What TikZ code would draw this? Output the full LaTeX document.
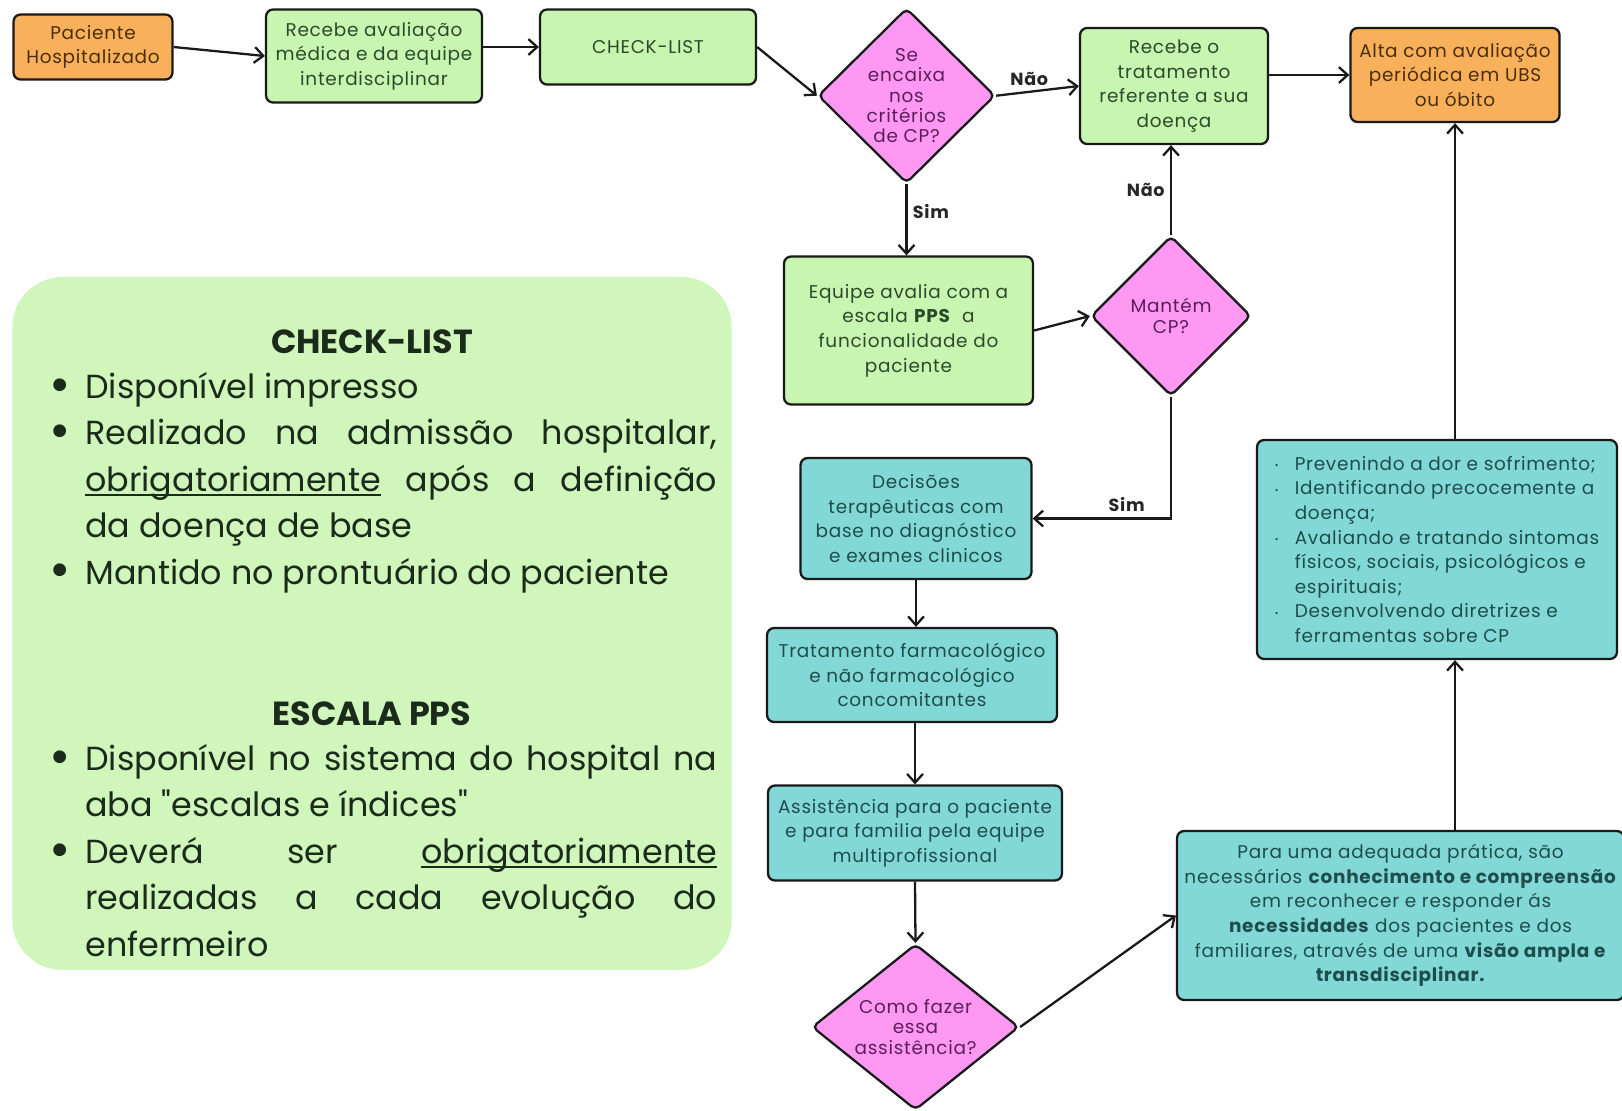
\documentclass[tikz,border=0pt]{standalone}
\usepackage{fontspec}
\setmainfont{Poppins}
\newfontfamily\caixafonte{Poppins}[LetterSpace=4]
\usepackage{graphicx}
\usepackage{tikz}
\usetikzlibrary{positioning, arrows.meta, shapes.geometric}

\definecolor{corLaranja}{HTML}{F9B05A}
\definecolor{corVerde}{HTML}{C8F5B0}
\definecolor{corPainel}{HTML}{D0F6BC}
\definecolor{corAzul}{HTML}{82D8D6}
\definecolor{corRosa}{HTML}{FF98F3}
\definecolor{txtLaranja}{HTML}{4A2E0C}
\definecolor{txtVerde}{HTML}{2B4A2B}
\definecolor{txtAzul}{HTML}{1D4D4D}
\definecolor{txtRosa}{HTML}{5B1E5B}
\definecolor{txtPainel}{HTML}{1B2B1B}

\tikzset{>={Straight Barb[length=5pt,width=9pt]}}
\tikzset{
    caixa/.style={draw=black!90, line width=1.3pt, rounded corners=4pt, align=center, inner sep=2pt,
        font=\caixafonte\fontsize{10.5}{14}\selectfont},
    cxL/.style={fill=corLaranja, text=txtLaranja},
    cxV/.style={fill=corVerde, text=txtVerde},
    cxA/.style={fill=corAzul, text=txtAzul},
    losango/.style={caixa, shape=diamond, rounded corners=3pt, inner sep=-8pt, fill=corRosa, text=txtRosa,
        font=\caixafonte\fontsize{10.5}{11.6}\selectfont},
    seta/.style={->, line width=1.3pt, black!90},
    rotulo/.style={font=\caixafonte\bfseries\fontsize{10}{12}\selectfont, text=black!85, inner sep=3pt},
    painel/.style={fill=corPainel, rounded corners=1cm, inner sep=0pt},
    titulo/.style={font=\bfseries\fontsize{19}{24}\selectfont, text=txtPainel, inner sep=0pt},
    lista/.style={anchor=north west, align=left, inner sep=0pt, text=txtPainel,
        font=\fontsize{19}{26.4}\selectfont}
}
\newcommand\marca{\makebox[0.76cm][l]{\hspace{1pt}\smash{\raisebox{-2.2pt}{\scalebox{1.55}{\textbullet}}}}}
\newcommand\recuo{\hspace*{0.76cm}}
\newcommand\pto{\makebox[0.4cm][l]{\raisebox{1pt}{\tiny\textbullet}}}
\newcommand\recuoB{\hspace*{0.4cm}}
\newcommand\sublinha[1]{\setbox0\hbox{#1}\rlap{\rule[-2.6pt]{\wd0}{0.9pt}}\box0\relax}

\begin{document}
\begin{tikzpicture}[x=0.02cm, y=-0.02cm]
    \useasboundingbox (0,0) rectangle (1622,1110);

    % painel com as notas
    \node[painel, minimum width=14.39cm, minimum height=13.86cm] (painel) at (372,623.5) {};
    \node[titulo] (tcheck) at (372,342) {CHECK-LIST};
    \node[lista] (lcheck) at (47,372) {
        \marca Disponível impresso\\
        \marca\makebox[12.64cm][s]{Realizado na admissão hospitalar,}\\
        \recuo\makebox[12.64cm][s]{\sublinha{obrigatoriamente} após a definição}\\
        \recuo da doença de base\\
        \marca Mantido no prontuário do paciente
    };
    \node[titulo] (tpps) at (372,714) {ESCALA PPS};
    \node[lista] (lpps) at (47,744) {
        \marca\makebox[12.64cm][s]{Disponível no sistema do hospital na}\\
        \recuo aba \textquotedbl escalas e índices\textquotedbl\\
        \marca\makebox[12.64cm][s]{Deverá ser \sublinha{obrigatoriamente}}\\
        \recuo\makebox[12.64cm][s]{realizadas a cada evolução do}\\
        \recuo enfermeiro
    };

    % fluxo
    \node[caixa, cxL, minimum width=3.18cm, minimum height=1.30cm] (pac) at (93,47) {Paciente\\Hospitalizado};
    \node[caixa, cxV, minimum width=4.32cm, minimum height=1.86cm] (aval) at (374,56) {Recebe avaliação\\médica e da equipe\\interdisciplinar};
    \node[caixa, cxV, minimum width=4.32cm, minimum height=1.50cm] (chk) at (648,47) {CHECK-LIST};
    \node[losango, minimum width=3.54cm, minimum height=3.50cm] (crit) at (906.5,95.7) {Se\\encaixa\\nos\\critérios\\de CP?};
    \node[caixa, cxV, minimum width=3.76cm, minimum height=2.32cm] (trat) at (1174,86) {Recebe o\\tratamento\\referente a sua\\doença};
    \node[caixa, cxL, minimum width=4.18cm, minimum height=1.88cm] (alta) at (1455,75) {Alta com avaliação\\periódica em UBS\\ou óbito};
    \node[caixa, cxV, minimum width=4.98cm, minimum height=2.96cm] (pps) at (908.5,330.5) {Equipe avalia com a\\escala \textbf{PPS}\ \ a\\funcionalidade do\\paciente};
    \node[losango, minimum width=3.2cm, minimum height=3.2cm] (mant) at (1171,316) {Mantém\\CP?};
    \node[caixa, cxA, minimum width=4.62cm, minimum height=2.42cm] (dec) at (916,518.5) {Decisões\\terapêuticas com\\base no diagnóstico\\e exames clinicos};
    \node[caixa, cxA, minimum width=5.8cm, minimum height=1.88cm] (farm) at (912,675) {Tratamento farmacológico\\e não farmacológico\\concomitantes};
    \node[caixa, cxA, minimum width=5.88cm, minimum height=1.90cm] (assis) at (915,833) {Assistência para o paciente\\e para familia pela equipe\\multiprofissional};
    \node[losango, minimum width=4.14cm, minimum height=3.32cm] (como) at (915.5,1027) {Como fazer\\essa\\assistência?};
    \node[caixa, cxA, align=left, minimum width=7.2cm, minimum height=4.38cm] (cuid) at (1437,549.5) {
        \pto Prevenindo a dor e sofrimento;\\
        \pto Identificando precocemente a\\
        \recuoB doença;\\
        \pto Avaliando e tratando sintomas\\
        \recuoB físicos, sociais, psicológicos e\\
        \recuoB espirituais;\\
        \pto Desenvolvendo diretrizes e\\
        \recuoB ferramentas sobre CP
    };
    \node[caixa, cxA, minimum width=8.94cm, minimum height=3.38cm] (prat) at (1400.5,915.5) {
        Para uma adequada prática, são\\
        necessários \textbf{conhecimento e compreensão}\\
        em reconhecer e responder ás\\
        \textbf{necessidades} dos pacientes e dos\\
        familiares, através de uma \textbf{visão ampla e}\\
        \textbf{transdisciplinar.}
    };

    \draw[seta] (pac.east) -- (aval.west);
    \draw[seta] (aval.east |- chk.west) -- (chk.west);
    \draw[seta] (chk.east) -- (crit.west);
    \draw[seta] (crit.east) -- node[rotulo, above, pos=0.4] {Não} (trat.west);
    \draw[seta] (trat.east |- alta.west) -- (alta.west);
    \draw[seta] (crit.south) -- node[rotulo, right, pos=0.38] {Sim} (crit.south |- pps.north);
    \draw[seta] (pps.east) -- (mant.west);
    \draw[seta] (mant.north) -- node[rotulo, left] {Não} (mant.north |- trat.south);
    \draw[seta] (mant.south) |- node[rotulo, above, pos=0.66] {Sim} (dec.east);
    \draw[seta] (dec.south) -- (dec.south |- farm.north);
    \draw[seta] (assis.north |- farm.south) -- (assis.north);
    \draw[seta] (assis.south) -- (como.north);
    \draw[seta] (como.east) -- (prat.west);
    \draw[seta] (prat.north -| alta.south) -- (cuid.south -| alta.south);
    \draw[seta] (cuid.north -| alta.south) -- (alta.south);
\end{tikzpicture}
\end{document}
